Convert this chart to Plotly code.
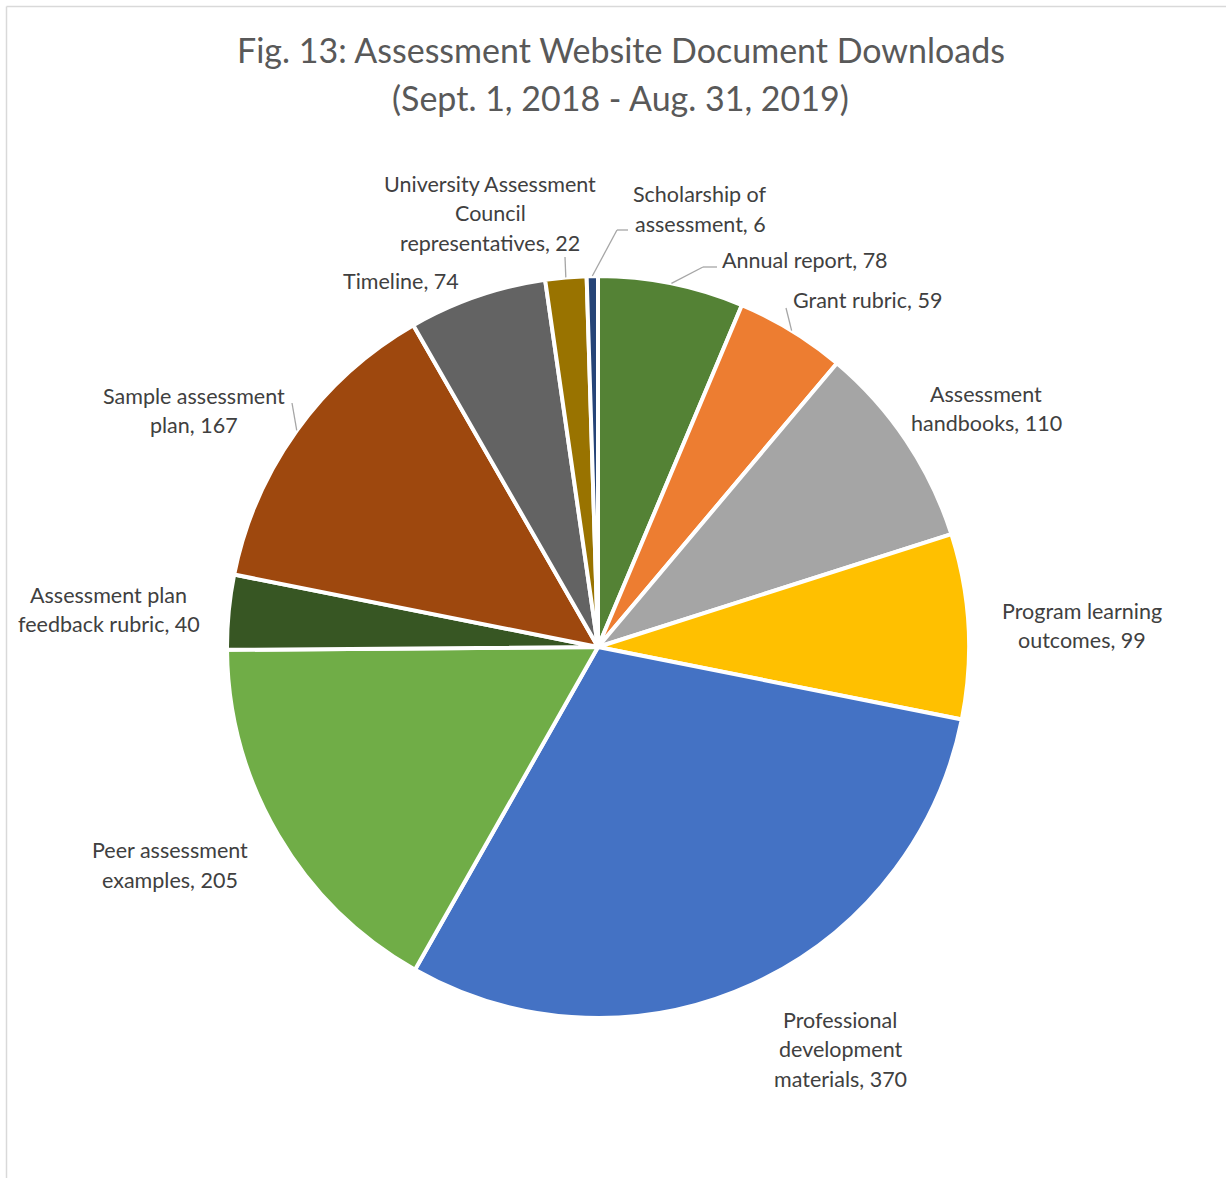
import math
import plotly.graph_objects as go

# ---------------- data ----------------
labels = [
    "Annual report",
    "Grant rubric",
    "Assessment handbooks",
    "Program learning outcomes",
    "Professional development materials",
    "Peer assessment examples",
    "Assessment plan feedback rubric",
    "Sample assessment plan",
    "Timeline",
    "University Assessment Council representatives",
    "Scholarship of assessment",
]
values = [78, 59, 110, 99, 370, 205, 40, 167, 74, 22, 6]
colors = [
    "#548235", "#ED7D31", "#A5A5A5", "#FFC000", "#4472C4", "#70AD47",
    "#375623", "#9E480E", "#636363", "#997300", "#264478",
]
# how each label text is wrapped (text content, not position)
label_wrap = [
    ["Annual report, {v}"],
    ["Grant rubric, {v}"],
    ["Assessment", "handbooks, {v}"],
    ["Program learning", "outcomes, {v}"],
    ["Professional", "development", "materials, {v}"],
    ["Peer assessment", "examples, {v}"],
    ["Assessment plan", "feedback rubric, {v}"],
    ["Sample assessment", "plan, {v}"],
    ["Timeline, {v}"],
    ["University Assessment", "Council", "representatives, {v}"],
    ["Scholarship of", "assessment, {v}"],
]
title_lines = ["Fig. 13: Assessment Website Document Downloads",
               "(Sept. 1, 2018 - Aug. 31, 2019)"]

# ---------------- layout / style ----------------
W, H = 1226, 1178
CX, CY, R = 598, 647, 371
FONT = "Lato"
LABEL_SIZE = 21.5
TITLE_SIZE = 34
LINE_STEP = 29.5
LABEL_COLOR = "#404040"
LEADER_COLOR = "#A6A6A6"

# label block placement (pixel): (x, y_center, xanchor)
label_pos = [
    (720, 260, "left"),
    (791, 300, "left"),
    (986, 408.5, "center"),
    (1082, 625.5, "center"),
    (840, 1049, "center"),
    (170, 865, "center"),
    (109, 609.5, "center"),
    (194, 410.5, "center"),
    (401, 281, "center"),
    (490, 213.5, "center"),
    (700, 209, "center"),
]
# leader line points (outer end first, then elbow), None = no leader
leaders = [
    [(717, 267), (703, 267)],
    [(786, 308)],
    None, None, None, None, None,
    [(292, 403)],
    None,
    [(565, 257)],
    [(628, 230), (617, 230)],
]


def px(x):
    return x / W


def py(y):
    return 1 - y / H


fig = go.Figure(go.Pie(
    labels=labels,
    values=values,
    sort=False,
    direction="clockwise",
    rotation=0,
    textinfo="none",
    hoverinfo="label+value",
    marker=dict(colors=colors, line=dict(color="white", width=4)),
    domain=dict(x=[px(CX - R), px(CX + R)], y=[py(CY + R), py(CY - R)]),
    showlegend=False,
))

annotations = []
shapes = []

# title
for i, t in enumerate(title_lines):
    annotations.append(dict(
        text=t, x=px(620.5), y=py(50 + i * 47), xref="paper", yref="paper",
        xanchor="center", yanchor="middle", showarrow=False,
        font=dict(family=FONT, size=TITLE_SIZE, color="#595959"),
    ))

# data labels with leader lines
total = sum(values)
cum = 0.0
for i, v in enumerate(values):
    mid = (cum + v / 2) / total * 2 * math.pi
    cum += v
    lines = [s.format(v=v) for s in label_wrap[i]]
    x0, yc, xa = label_pos[i]
    n = len(lines)
    for j, s in enumerate(lines):
        yy = yc + (j - (n - 1) / 2) * LINE_STEP
        annotations.append(dict(
            text=s, x=px(x0), y=py(yy), xref="paper", yref="paper",
            xanchor=xa, yanchor="middle", showarrow=False,
            font=dict(family=FONT, size=LABEL_SIZE, color=LABEL_COLOR),
        ))
    if leaders[i]:
        rim = (CX + R * math.sin(mid), CY - R * math.cos(mid))
        pts = list(leaders[i]) + [rim]
        for a, b in zip(pts[:-1], pts[1:]):
            shapes.append(dict(
                type="line", xref="paper", yref="paper",
                x0=px(a[0]), y0=py(a[1]), x1=px(b[0]), y1=py(b[1]),
                line=dict(color=LEADER_COLOR, width=1.3),
            ))

# chart area border (left and top visible)
shapes.append(dict(type="line", xref="paper", yref="paper",
                   x0=px(6.5), y0=py(6.5), x1=px(6.5), y1=py(H + 5),
                   line=dict(color="#D9D9D9", width=1.5)))
shapes.append(dict(type="line", xref="paper", yref="paper",
                   x0=px(6.5), y0=py(6.5), x1=px(W + 5), y1=py(6.5),
                   line=dict(color="#D9D9D9", width=1.5)))

fig.update_layout(
    width=W, height=H,
    margin=dict(l=0, r=0, t=0, b=0),
    paper_bgcolor="white",
    plot_bgcolor="white",
    annotations=annotations,
    shapes=shapes,
    font=dict(family=FONT),
)

fig.write_html("out.html")
